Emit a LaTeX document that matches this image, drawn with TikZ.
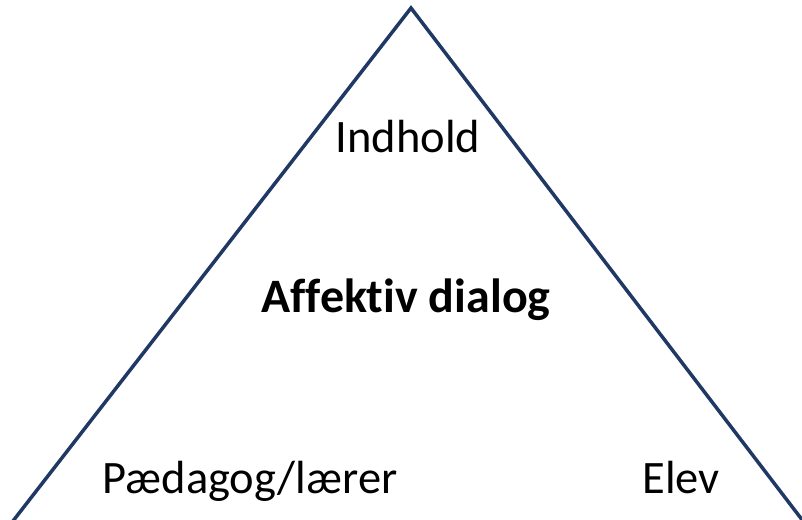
\documentclass[tikz,border=0pt]{standalone}
\usepackage{fontspec}
\setmainfont{Carlito}[Ligatures=NoCommon]
\usepackage{xcolor}
\usetikzlibrary{calc}
\usetikzlibrary{positioning}
\definecolor{navy}{HTML}{203864}
\tikzset{
    triangle edge/.style={
        draw=navy,
        line width=3.5pt,
        line join=miter,
    },
    corner label/.style={
        anchor=base,
        inner sep=0,
        font=\fontsize{46.5}{56}\selectfont,
    },
    centre label/.style={
        corner label,
        font=\fontsize{48}{58}\selectfont\bfseries,
    },
}

\begin{document}
\begin{tikzpicture}[x=1pt, y=-1pt]

    \useasboundingbox (0, 0) rectangle (802, 519);

    \coordinate (top) at (411, 8);
    \coordinate (left) at (13, 521);
    \coordinate (right) at (803, 521);

    \draw[triangle edge] (left) -- (top) -- (right);

    \node[corner label] (content) at (408, 152) {Indhold};
    \node[centre label] (dialog) at (406, 312) {Affektiv dialog};
    \node[corner label] (teacher) at (250, 493) {Pædagog/lærer};
    \node[corner label] (pupil) at (681, 493) {Elev};

\end{tikzpicture}
\end{document}
